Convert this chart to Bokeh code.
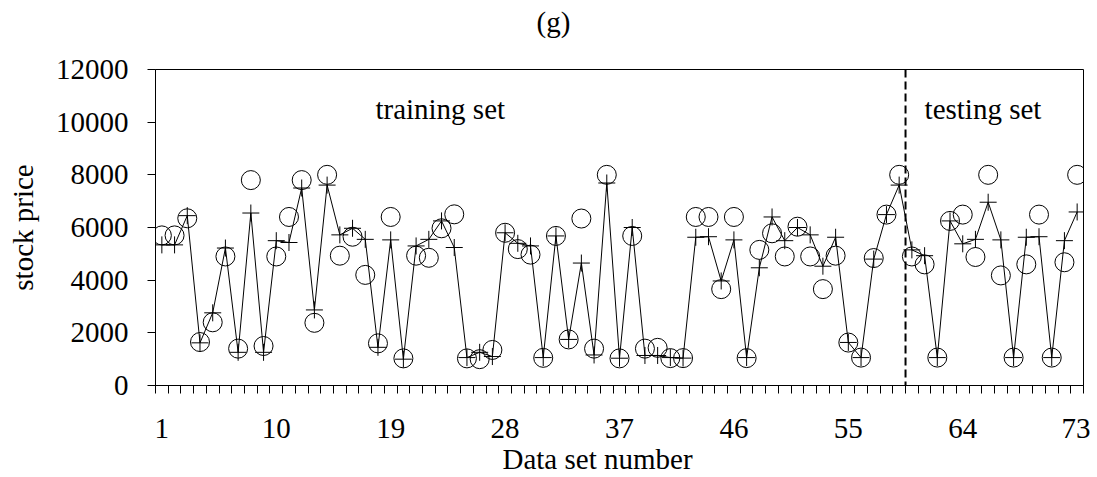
from bokeh.plotting import figure
from bokeh.models import FixedTicker, Label, Span, Range1d, Title
from bokeh.embed import file_html
from bokeh.resources import INLINE

# ---- data ----
data_set = list(range(1, 74))
actual = [5700, 5700, 6350, 1650, 2400, 4900, 1400, 7800, 1500, 4900,
          6400, 7800, 2380, 8000, 4930, 5650, 4200, 1600, 6400, 1030,
          4930, 4850, 5970, 6500, 1030, 1000, 1350, 5800, 5180, 4970,
          1050, 5680, 1750, 6340, 1400, 8000, 1030, 5680, 1400, 1430,
          1040, 1040, 6400, 6400, 3660, 6400, 1040, 5150, 5780, 4900,
          6030, 4900, 3660, 4930, 1630, 1060, 4840, 6490, 8000, 4900,
          4600, 1060, 6250, 6490, 4880, 8000, 4180, 1060, 4600, 6490,
          1060, 4680, 8000]
predicted = [5340, 5340, 6450, 1620, 2760, 5220, 1260, 6550, 1260, 5500,
             5430, 7500, 2870, 7610, 5720, 5970, 5550, 1450, 5530, 1000,
             5300, 5550, 6250, 5240, 1060, 1260, 1100, 5800, 5400, 5300,
             1060, 5680, 1750, 4650, 1160, 7690, 1036, 6000, 1140, 1140,
             1060, 1040, 5630, 5650, 3970, 5530, 1060, 4470, 6400, 5500,
             6000, 5720, 4530, 5630, 1635, 1060, 4800, 6490, 7610, 5150,
             4930, 1060, 6250, 5380, 5550, 6960, 5530, 1060, 5630, 5650,
             1060, 5500, 6590]
x_tick_labels = [1, 10, 19, 28, 37, 46, 55, 64, 73]
y_ticks = [0, 2000, 4000, 6000, 8000, 10000, 12000]
split_at = 59.5

FONT = "Liberation Serif"
FS = "29px"

p = figure(width=1090, height=474, output_backend="svg", toolbar_location=None,
           x_range=Range1d(0.5, 73.5), y_range=Range1d(0, 12000),
           min_border_left=155, min_border_right=7, min_border_top=69,
           min_border_bottom=86)
p.grid.visible = False
p.outline_line_color = "black"
p.outline_line_width = 1
p.background_fill_color = "white"
p.border_fill_color = "white"

# trailing blank line lifts the title text up into the top margin
p.title.text = "(g)\n "
p.title.align = "left"
p.title.offset = 381
p.title.standoff = 0
p.title.text_line_height = 1.0
p.title.text_font = FONT
p.title.text_font_size = FS
p.title.text_font_style = "normal"
p.title.text_color = "black"

p.add_layout(Title(text="Data set number", align="left", offset=347,
                   text_font=FONT, text_font_size=FS, text_font_style="normal",
                   text_color="black", standoff=0), "below")

p.line(data_set, predicted, line_color="black", line_width=1)
p.scatter(data_set, predicted, marker="cross", size=17,
          line_color="black", line_width=1)
p.scatter(data_set, actual, marker="circle", size=19,
          line_color="black", fill_color=None, line_width=1)

p.add_layout(Span(location=split_at, dimension="height", line_color="black",
                  line_width=2, line_dash="8 4"))

p.add_layout(Label(x=17.8, y=10500, text="training set", text_font=FONT,
                   text_font_size=FS, text_baseline="middle", text_align="left",
                   text_color="black"))
p.add_layout(Label(x=61.0, y=10500, text="testing set", text_font=FONT,
                   text_font_size=FS, text_baseline="middle", text_align="left",
                   text_color="black"))

xa = p.xaxis[0]
xa.ticker = FixedTicker(ticks=x_tick_labels,
                        minor_ticks=[k - 0.5 for k in data_set] + [data_set[-1] + 0.5])
xa.major_tick_out = 0
xa.major_tick_in = 0
xa.minor_tick_out = 8
xa.minor_tick_in = 0
xa.minor_tick_line_color = "black"
xa.axis_line_color = "black"
xa.major_label_standoff = 25
xa.major_label_text_font = FONT
xa.major_label_text_font_size = FS
xa.major_label_text_color = "black"

ya = p.yaxis[0]
ya.ticker = FixedTicker(ticks=y_ticks)
ya.major_tick_out = 8
ya.major_tick_in = 0
ya.minor_tick_line_color = None
ya.axis_line_color = "black"
ya.major_tick_line_color = "black"
ya.major_label_standoff = 19
ya.major_label_text_font = FONT
ya.major_label_text_font_size = FS
ya.major_label_text_color = "black"
ya.axis_label = "stock price"
ya.axis_label_text_font = FONT
ya.axis_label_text_font_size = FS
ya.axis_label_text_font_style = "normal"
ya.axis_label_text_color = "black"
ya.axis_label_standoff = 14

open("out.html", "w").write(file_html(p, INLINE))
